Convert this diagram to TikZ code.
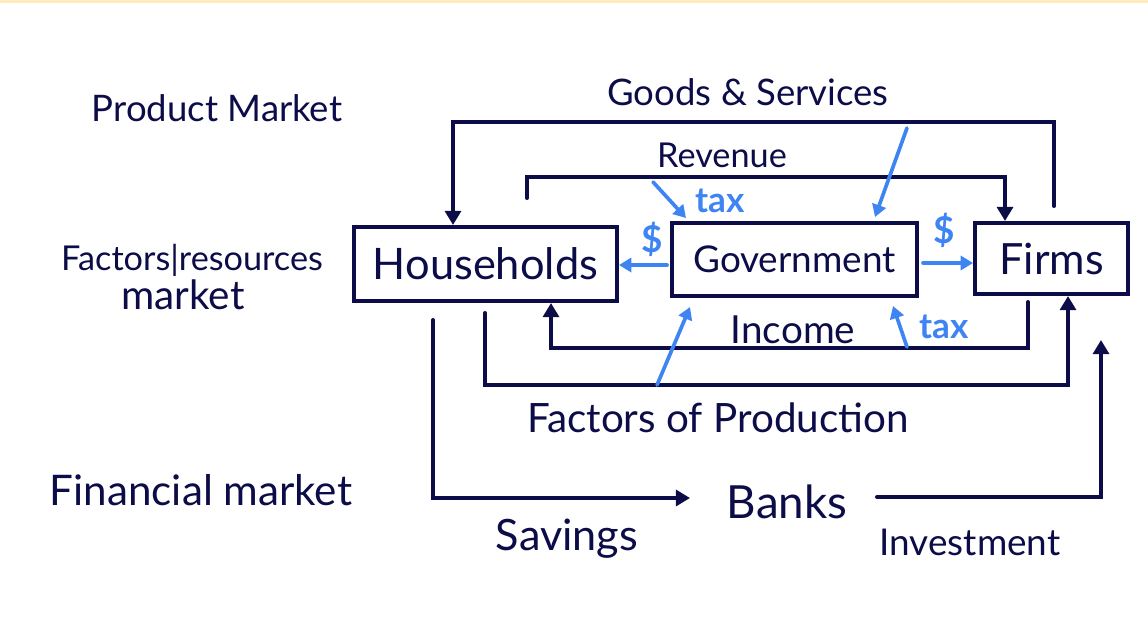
\documentclass[tikz,border=0pt]{standalone}
\usepackage{fontspec}
\setmainfont{Lato}
\usetikzlibrary{arrows.meta}
\definecolor{navy}{RGB}{12,12,72}
\definecolor{tblue}{RGB}{62,132,242}
\definecolor{topy}{RGB}{255,236,190}
\newcommand{\fs}[1]{\fontsize{#1}{#1}\selectfont}
\tikzset{
  lbl/.style={text=navy, inner sep=0pt, anchor=base},
  blbl/.style={text=tblue, inner sep=0pt, anchor=base, font=\bfseries},
  agent/.style={draw=navy, line width=2.3pt, inner sep=0pt, text=navy},
  flow/.style={draw=navy, line width=2.3pt, line cap=round, -{Triangle[width=9pt,length=8pt]}},
  plain/.style={draw=navy, line width=2.3pt, line cap=round},
  bflow/.style={draw=tblue, line width=2.1pt, line cap=round, -{Triangle[width=8pt,length=7pt]}}
}
\begin{document}
\begin{tikzpicture}[x=0.02cm,y=-0.02cm]
\useasboundingbox (0,0) rectangle (1148,616);
\fill[topy] (0,0) rectangle (1148,2.5);

% boxes
\node[agent, minimum width=5.26cm, minimum height=1.48cm] (hh) at (485.5,264) {\fs{24.7}Households};
\node[agent, minimum width=4.9cm, minimum height=1.46cm] (gov) at (794.5,259.5) {\fs{21}Government};
\node[agent, minimum width=3.06cm, minimum height=1.42cm] (firms) at (1051.5,258.5) {\fs{24.5}Firms};

% labels
\node[lbl] (pm) at (217,121) {\fs{20.8}Product Market};
\node[lbl] (fr) at (192,270) {\fs{19.5}Factors|resources};
\node[lbl] (fr2) at (183,309) {\fs{23}market};
\node[lbl] (fm) at (201,505) {\fs{24}Financial market};
\node[lbl] (gs) at (748,105) {\fs{20.8}Goods \& Services};
\node[lbl] (rev) at (722,167) {\fs{19.5}Revenue};
\node[lbl] (inc) at (793,343) {\fs{22}Income};
\node[lbl] (fop) at (718,432) {\fs{23}Factors of Production};
\node[lbl] (sav) at (567,550) {\fs{24.6}Savings};
\node[lbl] (banks) at (787,518) {\fs{26}Banks};
\node[lbl] (inv) at (970,555) {\fs{21}Investment};
\node[blbl] (taxu) at (720,212) {\fs{20}tax};
\node[blbl] (taxl) at (944,338) {\fs{20}tax};
\node[blbl] (dl) at (652,252) {\fs{21}\$};
\node[blbl] (dr) at (944,243) {\fs{21}\$};

% coordinates for free ends / corners
\coordinate (gsS) at (1054,206);
\coordinate (gsL) at (453,122);
\coordinate (revS) at (527,198);
\coordinate (revR) at (1005,177);
\coordinate (incS) at (1028,302);
\coordinate (incL) at (551,348);
\coordinate (fopS) at (485,313);
\coordinate (fopR) at (1068,385);
\coordinate (savS) at (433,320);
\coordinate (savE) at (690,498);
\coordinate (invS) at (877,497);
\coordinate (invE) at (1101,340);

% navy flows
\draw[flow] (gsS) |- (gsL) -- (hh.north -| gsL);
\draw[flow] (revS) |- (revR) -- (firms.north -| revR);
\draw[flow] (incS) |- (incL) -- (hh.south -| incL);
\draw[flow] (fopS) |- (fopR) -- (firms.south -| fopR);
\draw[flow] (savS) |- (savE);
\draw[flow] (invS) -| (invE);

% blue flows
\coordinate (b1s) at (653,182);
\coordinate (b1e) at (686,218);
\draw[bflow] (b1s) -- (b1e);
\coordinate (b2s) at (907,128);
\coordinate (b2e) at (875,217);
\draw[bflow] (b2s) -- (b2e);
\coordinate (b3s) at (667,265);
\draw[bflow] (b3s) -- (hh.east |- b3s);
\coordinate (b4s) at (923,263);
\draw[bflow] (b4s) -- (firms.west |- b4s);
\coordinate (b5s) at (907,347);
\coordinate (b5e) at (893,306);
\draw[bflow] (b5s) -- (b5e);
\coordinate (b6s) at (657,385);
\coordinate (b6e) at (690,307);
\draw[bflow] (b6s) -- (b6e);
\end{tikzpicture}
\end{document}
